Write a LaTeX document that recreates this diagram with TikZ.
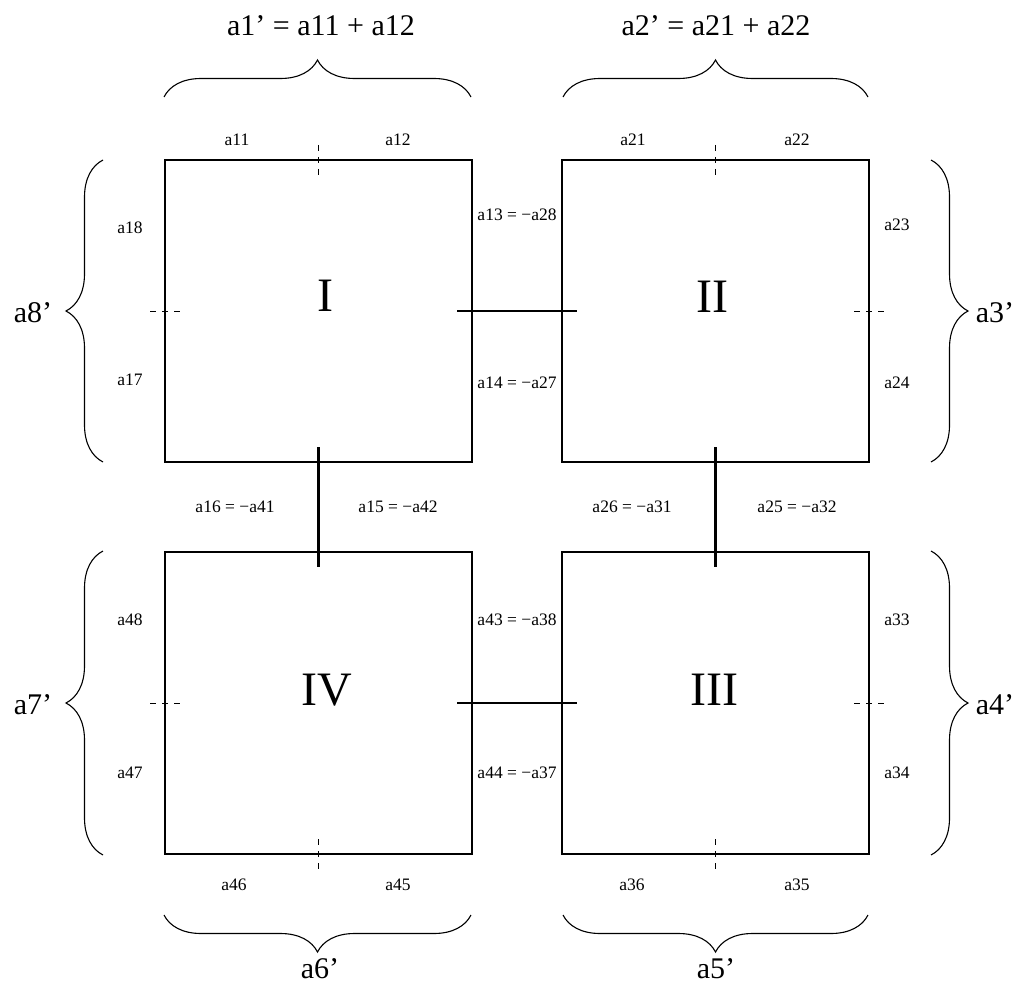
\documentclass[tikz,border=0pt]{standalone}
\usepackage{fontspec}
\setmainfont{Liberation Serif}
\usetikzlibrary{decorations.pathreplacing}
\begin{document}
\begin{tikzpicture}[x=1pt,y=-1pt,
  box/.style={draw,line width=1.6pt,inner sep=0pt,outer sep=0pt,minimum width=307pt,minimum height=302pt},
  conn/.style={line width=2.2pt},
  tick/.style={line width=1pt,dash pattern=on 6pt off 6pt},
  brc/.style={line width=1.1pt,decorate,decoration={brace,amplitude=37pt}},
  sm/.style={font=\fontsize{17.5}{17.5}\selectfont,inner sep=0pt},
  big/.style={font=\fontsize{30}{30}\selectfont,inner sep=0pt,anchor=base},
  roman/.style={font=\fontsize{48}{48}\selectfont,inner sep=0pt}]
\useasboundingbox (0,0) rectangle (1022,995);
% boxes
\node[box] (I) at (318.5,311) {};
\node[box] (II) at (715.5,311) {};
\node[box] (IV) at (318.5,703) {};
\node[box] (III) at (715.5,703) {};
% roman numerals
\node[roman] (tI) at (325,296) {I};
\node[roman] (tII) at (712,297) {II};
\node[roman] (tIV) at (327,690) {IV};
\node[roman] (tIII) at (714,690) {III};
% connectors
\draw[conn] ([xshift=-15pt]I.east) -- ([xshift=15pt]II.west);
\draw[conn] ([xshift=-15pt]IV.east) -- ([xshift=15pt]III.west);
\draw[conn] ([yshift=15pt]I.south) -- ([yshift=-15pt]IV.north);
\draw[conn] ([yshift=15pt]II.south) -- ([yshift=-15pt]III.north);
% ticks
\draw[tick] ([yshift=15pt]I.north) -- ([yshift=-15pt]I.north);
\draw[tick] ([yshift=15pt]II.north) -- ([yshift=-15pt]II.north);
\draw[tick] ([yshift=15pt]IV.south) -- ([yshift=-15pt]IV.south);
\draw[tick] ([yshift=15pt]III.south) -- ([yshift=-15pt]III.south);
\draw[tick] ([xshift=-15pt]I.west) -- ([xshift=15pt]I.west);
\draw[tick] ([xshift=-15pt]IV.west) -- ([xshift=15pt]IV.west);
\draw[tick] ([xshift=-15pt]II.east) -- ([xshift=15pt]II.east);
\draw[tick] ([xshift=-15pt]III.east) -- ([xshift=15pt]III.east);
% braces
\coordinate (bt1a) at (164,97); \coordinate (bt1b) at (471,97);
\coordinate (bt2a) at (563,97); \coordinate (bt2b) at (868,97);
\draw[brc] (bt1a) -- (bt1b);
\draw[brc] (bt2a) -- (bt2b);
\coordinate (bl1a) at (103,462); \coordinate (bl1b) at (103,160);
\coordinate (bl2a) at (103,855); \coordinate (bl2b) at (103,551);
\draw[brc] (bl1a) -- (bl1b);
\draw[brc] (bl2a) -- (bl2b);
\coordinate (br1a) at (931,160); \coordinate (br1b) at (931,462);
\coordinate (br2a) at (931,551); \coordinate (br2b) at (931,855);
\draw[brc] (br1a) -- (br1b);
\draw[brc] (br2a) -- (br2b);
\coordinate (bb1a) at (471,915); \coordinate (bb1b) at (164,915);
\coordinate (bb2a) at (868,915); \coordinate (bb2b) at (563,915);
\draw[brc] (bb1a) -- (bb1b);
\draw[brc] (bb2a) -- (bb2b);
% big labels
\node[big] (L1) at (321,36) {a1’ = a11 + a12};
\node[big] (L2) at (716,36) {a2’ = a21 + a22};
\node[big] (L8) at (33,322) {a8’};
\node[big] (L3) at (995,322) {a3’};
\node[big] (L7) at (33,714) {a7’};
\node[big] (L4) at (995,714) {a4’};
\node[big] (L6) at (320,978) {a6’};
\node[big] (L5) at (716,978) {a5’};
% small labels
\node[sm] (s11) at (237,140) {a11};
\node[sm] (s12) at (398,140) {a12};
\node[sm] (s21) at (633,140) {a21};
\node[sm] (s22) at (797,140) {a22};
\node[sm] (s18) at (130,228) {a18};
\node[sm] (s17) at (130,380) {a17};
\node[sm] (s48) at (130,620) {a48};
\node[sm] (s47) at (130,773) {a47};
\node[sm] (s13) at (517,215) {a13 = −a28};
\node[sm] (s14) at (517,383) {a14 = −a27};
\node[sm] (s43) at (517,620) {a43 = −a38};
\node[sm] (s44) at (517,773) {a44 = −a37};
\node[sm] (s23) at (897,225) {a23};
\node[sm] (s24) at (897,383) {a24};
\node[sm] (s33) at (897,620) {a33};
\node[sm] (s34) at (897,773) {a34};
\node[sm] (s16) at (235,507) {a16 = −a41};
\node[sm] (s15) at (398,507) {a15 = −a42};
\node[sm] (s26) at (632,507) {a26 = −a31};
\node[sm] (s25) at (797,507) {a25 = −a32};
\node[sm] (s46) at (234,885) {a46};
\node[sm] (s45) at (398,885) {a45};
\node[sm] (s36) at (632,885) {a36};
\node[sm] (s35) at (797,885) {a35};
\end{tikzpicture}
\end{document}
